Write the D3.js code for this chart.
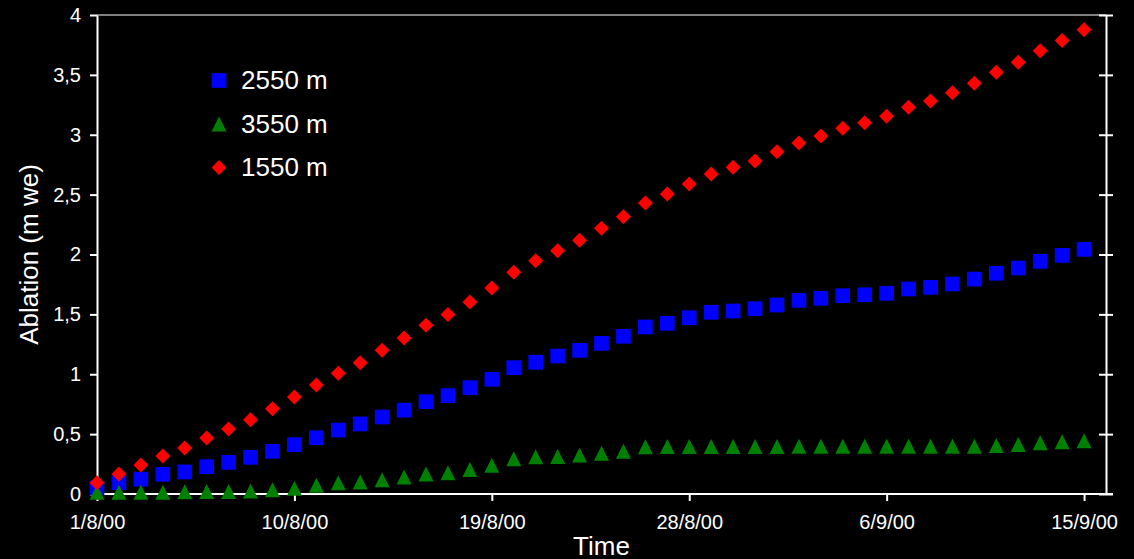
<!DOCTYPE html>
<html>
<head>
<meta charset="utf-8">
<script src="https://cdn.jsdelivr.net/npm/d3@7"></script>
<style>
  body { margin: 0; background: #000; }
  svg { display: block; font-family: "Liberation Sans", Arial, sans-serif; }
</style>
</head>
<body>
<svg id="chart" width="1134" height="559"></svg>
<script>
// daily readings, 1/8/00 .. 15/9/00
const startDay = "2000-08-01";
const days = 46;

const abl2550 = [0.05, 0.094, 0.123, 0.164, 0.184, 0.228, 0.264, 0.306, 0.356, 0.412,
  0.47, 0.534, 0.585, 0.643, 0.70, 0.771, 0.821, 0.888, 0.958, 1.055,
  1.10, 1.152, 1.20, 1.258, 1.317, 1.395, 1.425, 1.472, 1.517, 1.528,
  1.548, 1.578, 1.617, 1.634, 1.656, 1.664, 1.676, 1.712, 1.726, 1.754,
  1.795, 1.843, 1.887, 1.943, 1.993, 2.043];

const abl3550 = [0.015, 0.015, 0.015, 0.015, 0.018, 0.021, 0.021, 0.025, 0.035, 0.048,
  0.074, 0.093, 0.10, 0.12, 0.143, 0.166, 0.178, 0.205, 0.241, 0.295,
  0.312, 0.313, 0.326, 0.341, 0.358, 0.394, 0.396, 0.396, 0.396, 0.396,
  0.396, 0.396, 0.398, 0.398, 0.398, 0.398, 0.398, 0.398, 0.398, 0.398,
  0.398, 0.406, 0.413, 0.429, 0.437, 0.445];

const abl1550 = [0.094, 0.167, 0.242, 0.317, 0.384, 0.468, 0.543, 0.62, 0.712, 0.81,
  0.91, 1.008, 1.096, 1.20, 1.303, 1.409, 1.50, 1.603, 1.72, 1.851,
  1.948, 2.032, 2.118, 2.219, 2.316, 2.43, 2.505, 2.589, 2.672, 2.728,
  2.781, 2.859, 2.931, 2.99, 3.054, 3.101, 3.154, 3.229, 3.282, 3.351,
  3.43, 3.521, 3.605, 3.702, 3.788, 3.877];

const seriesNames = ["2550 m", "3550 m", "1550 m"];
const seriesColors = ["#0000ff", "#008000", "#ff0000"];
const xTickDates = ["2000-08-01", "2000-08-10", "2000-08-19", "2000-08-28", "2000-09-06", "2000-09-15"];
const yTicks = [0, 0.5, 1, 1.5, 2, 2.5, 3, 3.5, 4];

const parse = d3.utcParse("%Y-%m-%d");
const t0 = parse(startDay);
const dates = d3.range(days).map(i => d3.utcDay.offset(t0, i));

const pL = 97, pR = 1106, pT = 15, pB = 494;

const x = d3.scaleUtc()
  .domain([t0, d3.utcDay.offset(t0, days)])
  .range([pL, pR]);
const y = d3.scaleLinear().domain([0, 4]).range([pB, pT]);

const loc = d3.formatLocale({ decimal: ",", thousands: ".", grouping: [3], currency: ["", ""] });
const yFmt = v => loc.format("~g")(v);
const xFmt = d3.utcFormat("%-d/%-m/%y");

const svg = d3.select("#chart");

// markers
const sq = { draw(ctx, s) { const h = Math.sqrt(s) / 2; ctx.rect(-h, -h, 2 * h, 2 * h); } };
const tri = { draw(ctx, s) { const h = Math.sqrt(s) / 2; ctx.moveTo(0, -h); ctx.lineTo(h, h); ctx.lineTo(-h, h); ctx.closePath(); } };
const dia = { draw(ctx, s) { const h = Math.sqrt(s) / 2; ctx.moveTo(0, -h); ctx.lineTo(h, 0); ctx.lineTo(0, h); ctx.lineTo(-h, 0); ctx.closePath(); } };
const shapes = [d3.symbol(sq, 215), d3.symbol(tri, 225), d3.symbol(dia, 225)];
const seriesValues = [abl2550, abl3550, abl1550];

// frame
svg.append("line").attr("x1", pL).attr("x2", pR).attr("y1", pT).attr("y2", pT)
  .attr("stroke", "#808080").attr("stroke-width", 2);

const yAxis = svg.append("g").attr("transform", `translate(${pL},0)`)
  .call(d3.axisLeft(y).tickValues(yTicks).tickFormat(yFmt).tickSize(7).tickPadding(9).tickSizeOuter(0));
const yAxisR = svg.append("g").attr("transform", `translate(${pR},0)`)
  .call(d3.axisRight(y).tickValues(yTicks).tickFormat("").tickSize(7).tickSizeOuter(0));
yAxisR.selectAll(".tick line").attr("x1", -7);

const xAxis = svg.append("g").attr("transform", `translate(0,${pB})`)
  .call(d3.axisBottom(x).tickValues(xTickDates.map(parse)).tickFormat(xFmt).tickSize(7).tickPadding(14).tickSizeOuter(0));

[yAxis, yAxisR, xAxis].forEach(g => {
  g.select(".domain").attr("stroke", "#fff").attr("stroke-width", 2);
  g.selectAll(".tick line").attr("stroke", "#fff").attr("stroke-width", 2);
  g.selectAll(".tick text").attr("fill", "#fff").attr("font-size", 20)
    .attr("font-family", "Liberation Sans, Arial, sans-serif");
});
xAxis.select(".domain").attr("d", `M${pL},0H${pR + 7}`);

// points
seriesValues.forEach((vals, si) => {
  svg.append("g").selectAll("path")
    .data(vals)
    .join("path")
    .attr("transform", (v, i) => `translate(${x(dates[i])},${y(v)})`)
    .attr("d", shapes[si])
    .attr("fill", seriesColors[si]);
});

// axis titles
svg.append("text").attr("x", (pL + pR) / 2).attr("y", 555)
  .attr("text-anchor", "middle").attr("fill", "#fff").attr("font-size", 26).text("Time");
svg.append("text").attr("transform", `translate(38,${(pT + pB) / 2}) rotate(-90)`)
  .attr("text-anchor", "middle").attr("fill", "#fff").attr("font-size", 26).text("Ablation (m we)");

// legend
const legend = svg.append("g");
seriesNames.forEach((name, i) => {
  const cy = 80.5 + i * 43.5;
  legend.append("path").attr("transform", `translate(219,${cy})`)
    .attr("d", shapes[i]).attr("fill", seriesColors[i]);
  legend.append("text").attr("x", 241).attr("y", cy + 8.5)
    .attr("fill", "#fff").attr("font-size", 26).text(name);
});
</script>
</body>
</html>
